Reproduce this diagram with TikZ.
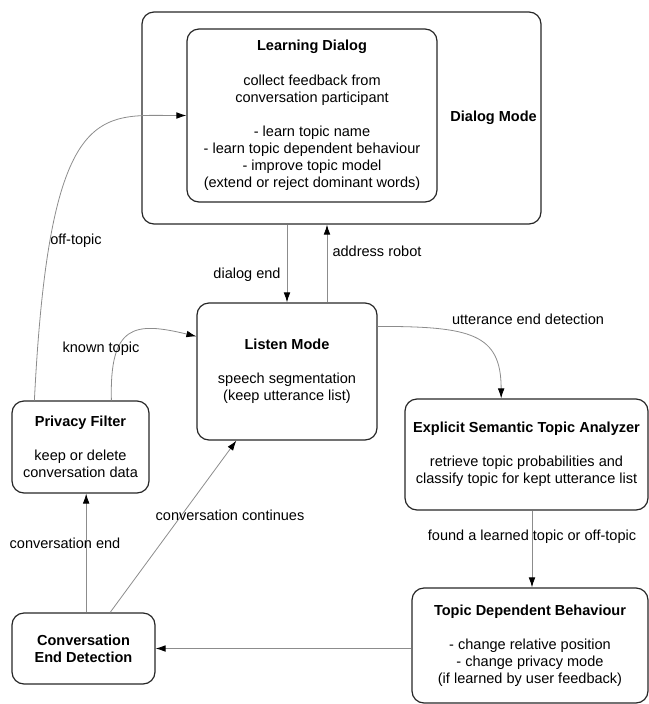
\documentclass[tikz,border=0pt]{standalone}
\usepackage{fontspec}
\setmainfont{Liberation Sans}
\usetikzlibrary{arrows.meta,positioning,calc}

\begin{document}
\begin{tikzpicture}[
  x=0.75pt, y=-0.75pt,
  font=\fontsize{10.9}{12.75}\selectfont,
  box/.style={draw=black!85, line width=0.9pt, rounded corners=9pt, align=center, inner sep=0pt},
  modename/.style={font=\fontsize{10.9}{12.75}\selectfont\bfseries},
  arr/.style={draw=black!45, line width=0.6pt, -{Latex[length=7.5pt, width=5pt, color=black]}},
  edgelabel/.style={inner sep=1pt},
]
\useasboundingbox (0,0) rectangle (649,704);

% Dialog mode with the learning dialog inside
\node[box, minimum width=299.25pt, minimum height=159pt] (dlg) at (341.5,118) {};
\node[modename] (dlgname) at (493.6,118) {Dialog Mode};
\node[box, minimum width=187.5pt, minimum height=129.75pt] (learn) at (312,115.5)
  {\textbf{Learning Dialog}\\[13pt] collect feedback from\\conversation participant\\[13pt]
   - learn topic name\\- learn topic dependent behaviour\\- improve topic model\\(extend or reject dominant words)};

\node[box, minimum width=135pt, minimum height=102.75pt] (listen) at (287,371.5)
  {\textbf{Listen Mode}\\[13pt] speech segmentation\\(keep utterance list)};
\node[box, minimum width=102.75pt, minimum height=69pt] (privacy) at (80.5,447)
  {\textbf{Privacy Filter}\\[13pt] keep or delete\\conversation data};
\node[box, minimum width=182.25pt, minimum height=83.25pt] (esa) at (526.5,454.5)
  {\textbf{Explicit Semantic Topic Analyzer}\\[13pt] retrieve topic probabilities and\\classify topic for kept utterance list};
\node[box, minimum width=107.25pt, minimum height=53.25pt] (ced) at (83.5,648.5)
  {\textbf{Conversation}\\\textbf{End Detection}};
\node[box, minimum width=177pt, minimum height=86.25pt] (tdb) at (530,645.5)
  {\textbf{Topic Dependent Behaviour}\\[13pt] - change relative position\\- change privacy mode\\(if learned by user feedback)};

% transitions
\draw[arr] ([xshift=17.25pt]privacy.north west) .. controls +(15,-301) and +(-87,0) .. (learn.west);
\draw[arr] ([xshift=75pt]privacy.north west) .. controls +(-2,-76) and +(-62,-15) .. ([yshift=-25.5pt]listen.north west);
\draw[arr] (listen.north |- dlg.south) -- (listen.north);
\draw[arr] ([xshift=30pt]listen.north) -- ([xshift=30pt]listen.north |- dlg.south);
\draw[arr] ([yshift=-18pt]listen.north east) .. controls +(93,0) and +(0,-65) .. ([xshift=-19pt]esa.north);
\draw[arr] ([xshift=1.5pt]esa.south -| tdb.north) -- ([xshift=1.5pt]tdb.north);
\draw[arr] (tdb.west |- ced.east) -- (ced.east);
\draw[arr] ([xshift=2pt]ced.north) -- ([xshift=2pt]ced.north |- privacy.south);
\draw[arr] ([xshift=20pt]ced.north) -- ([xshift=-38pt]listen.south);

\node[edgelabel] (offlbl) at (76,241) {off-topic};
\node[edgelabel] (knownlbl) at (101,349) {known topic};
\node[edgelabel] (endlbl) at (247,275) {dialog end};
\node[edgelabel] (addrlbl) at (377,251) {address robot};
\node[edgelabel] (uttlbl) at (528,319) {utterance end detection};
\node[edgelabel] (foundlbl) at (532,537) {found a learned topic or off-topic};
\node[edgelabel] (contlbl) at (230,515) {conversation continues};
\node[edgelabel] (convlbl) at (65,543) {conversation end};
\end{tikzpicture}
\end{document}
